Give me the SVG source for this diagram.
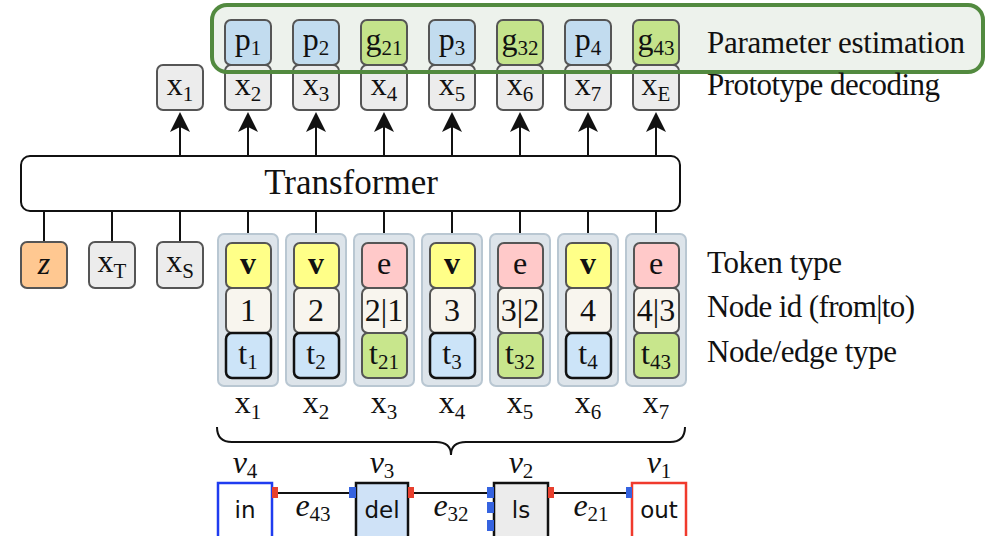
<svg xmlns="http://www.w3.org/2000/svg" width="986" height="536" viewBox="0 0 986 536">
<style>
.m{font-family:"Liberation Serif","DejaVu Serif",serif;fill:#111;}
.lbl{font-family:"Liberation Serif","DejaVu Serif",serif;fill:#111;font-size:31px;}
.sans{font-family:"DejaVu Sans","Liberation Sans",sans-serif;fill:#111;font-size:23px;text-anchor:middle;}
.tok{font-size:32px;text-anchor:middle;}
.sub{font-size:21px;}
.box{stroke:#555;stroke-width:2;}
.gray{fill:#ececec;}
.blue{fill:#c2dcef;}
.green{fill:#c4e38b;}
.tblue{fill:#cce4f8;stroke:#111;stroke-width:2.5;}
.tgreen{fill:#c8e68c;stroke:#555;stroke-width:2;}
.yel{fill:#ffff88;}
.pink{fill:#ffc9c9;}
.cream{fill:#f8f5ee;}
.col{fill:#dde4ea;stroke:#b9c7d2;stroke-width:2;}
.ln{stroke:#111;stroke-width:2;fill:none;}
.pr{fill:#e8402e;}
.pb{fill:#3563e0;}
.vb{font-weight:bold;stroke:#ffff88;stroke-width:0.6;paint-order:stroke;}
</style>
<defs>
<marker id="ah" markerUnits="userSpaceOnUse" viewBox="0 0 20 20" refX="12" refY="10" markerWidth="20" markerHeight="20" orient="auto">
<path d="M0,0 L20,10 L0,20 L5,10 Z" fill="#111"/>
</marker>
</defs>

<rect id="pe-bg" x="212" y="5" width="771" height="67" rx="15" fill="#edf2ec"/>

<g id="connectors">
<line class="ln" x1="180" y1="156" x2="180" y2="120" marker-end="url(#ah)"/>
<line class="ln" x1="248" y1="156" x2="248" y2="120" marker-end="url(#ah)"/>
<line class="ln" x1="316" y1="156" x2="316" y2="120" marker-end="url(#ah)"/>
<line class="ln" x1="384" y1="156" x2="384" y2="120" marker-end="url(#ah)"/>
<line class="ln" x1="452" y1="156" x2="452" y2="120" marker-end="url(#ah)"/>
<line class="ln" x1="520" y1="156" x2="520" y2="120" marker-end="url(#ah)"/>
<line class="ln" x1="588" y1="156" x2="588" y2="120" marker-end="url(#ah)"/>
<line class="ln" x1="656" y1="156" x2="656" y2="120" marker-end="url(#ah)"/>
<line class="ln" x1="44" y1="211" x2="44" y2="242"/>
<line class="ln" x1="112" y1="211" x2="112" y2="242"/>
<line class="ln" x1="180" y1="211" x2="180" y2="242"/>
<line class="ln" x1="248" y1="211" x2="248" y2="243"/>
<line class="ln" x1="316" y1="211" x2="316" y2="243"/>
<line class="ln" x1="384" y1="211" x2="384" y2="243"/>
<line class="ln" x1="452" y1="211" x2="452" y2="243"/>
<line class="ln" x1="520" y1="211" x2="520" y2="243"/>
<line class="ln" x1="588" y1="211" x2="588" y2="243"/>
<line class="ln" x1="656" y1="211" x2="656" y2="243"/>
<path class="ln" d="M217,427 Q217,442 232,442 L436,442 Q451,442 451,455 Q451,442 466,442 L670,442 Q685,442 685,427"/>
<line class="ln" x1="278" y1="493" x2="349" y2="493"/>
<line class="ln" x1="414" y1="493" x2="487" y2="493"/>
<line class="ln" x1="554" y1="493" x2="626" y2="493"/>
</g>

<g id="out-x1"><rect class="box gray" x="157" y="65" width="46" height="45" rx="6"/><text class="m tok" x="180" y="95">x<tspan class="sub" dy="6">1</tspan></text></g>
<g id="out-x2"><rect class="box gray" x="225" y="65" width="46" height="45" rx="6"/><text class="m tok" x="248" y="95">x<tspan class="sub" dy="6">2</tspan></text></g>
<g id="out-x3"><rect class="box gray" x="293" y="65" width="46" height="45" rx="6"/><text class="m tok" x="316" y="95">x<tspan class="sub" dy="6">3</tspan></text></g>
<g id="out-x4"><rect class="box gray" x="361" y="65" width="46" height="45" rx="6"/><text class="m tok" x="384" y="95">x<tspan class="sub" dy="6">4</tspan></text></g>
<g id="out-x5"><rect class="box gray" x="429" y="65" width="46" height="45" rx="6"/><text class="m tok" x="452" y="95">x<tspan class="sub" dy="6">5</tspan></text></g>
<g id="out-x6"><rect class="box gray" x="497" y="65" width="46" height="45" rx="6"/><text class="m tok" x="520" y="95">x<tspan class="sub" dy="6">6</tspan></text></g>
<g id="out-x7"><rect class="box gray" x="565" y="65" width="46" height="45" rx="6"/><text class="m tok" x="588" y="95">x<tspan class="sub" dy="6">7</tspan></text></g>
<g id="out-xE"><rect class="box gray" x="633" y="65" width="46" height="45" rx="6"/><text class="m tok" x="656" y="95">x<tspan class="sub" dy="6">E</tspan></text></g>

<g id="p1"><rect class="box blue" x="225" y="20" width="46" height="45" rx="6"/><text class="m tok" x="248" y="50">p<tspan class="sub" dy="5">1</tspan></text></g>
<g id="p2"><rect class="box blue" x="293" y="20" width="46" height="45" rx="6"/><text class="m tok" x="316" y="50">p<tspan class="sub" dy="5">2</tspan></text></g>
<g id="g21"><rect class="box green" x="361" y="20" width="46" height="45" rx="6"/><text class="m tok" x="384" y="50">g<tspan class="sub" dy="5">21</tspan></text></g>
<g id="p3"><rect class="box blue" x="429" y="20" width="46" height="45" rx="6"/><text class="m tok" x="452" y="50">p<tspan class="sub" dy="5">3</tspan></text></g>
<g id="g32"><rect class="box green" x="497" y="20" width="46" height="45" rx="6"/><text class="m tok" x="520" y="50">g<tspan class="sub" dy="5">32</tspan></text></g>
<g id="p4"><rect class="box blue" x="565" y="20" width="46" height="45" rx="6"/><text class="m tok" x="588" y="50">p<tspan class="sub" dy="5">4</tspan></text></g>
<g id="g43"><rect class="box green" x="633" y="20" width="46" height="45" rx="6"/><text class="m tok" x="656" y="50">g<tspan class="sub" dy="5">43</tspan></text></g>

<rect id="pe-frame" x="212" y="5" width="771" height="67" rx="15" fill="none" stroke="#528a3f" stroke-width="4"/>

<text class="lbl" x="707" y="53" textLength="258">Parameter estimation</text>
<text class="lbl" x="707" y="95" textLength="233">Prototype decoding</text>

<g id="transformer">
<rect x="21" y="156" width="659" height="55" rx="9" fill="#fff" stroke="#111" stroke-width="2"/>
<text class="m" x="351" y="194" font-size="35" text-anchor="middle">Transformer</text>
</g>

<g id="z"><rect class="box" fill="#ffc891" x="21" y="242" width="46" height="46" rx="6"/><text class="m tok" x="44" y="274" font-style="italic">z</text></g>
<g id="xT"><rect class="box gray" x="89" y="242" width="46" height="46" rx="6"/><text class="m tok" x="112" y="272">x<tspan class="sub" dy="6">T</tspan></text></g>
<g id="xS"><rect class="box gray" x="157" y="242" width="46" height="46" rx="6"/><text class="m tok" x="180" y="272">x<tspan class="sub" dy="6">S</tspan></text></g>

<g id="tok1">
<rect class="col" x="218" y="234" width="60" height="152" rx="6"/>
<rect class="box yel" x="226" y="243" width="45" height="45" rx="6"/><text class="m tok vb" x="248" y="274">v</text>
<rect class="box cream" x="226" y="288" width="45" height="45" rx="6"/><text class="m tok" x="248" y="321">1</text>
<rect class="tblue" x="226" y="333" width="45" height="45" rx="6"/><text class="m tok" x="248" y="364">t<tspan class="sub" dy="5">1</tspan></text>
<text class="m tok" x="248" y="413">x<tspan class="sub" dy="6">1</tspan></text>
</g>
<g id="tok2">
<rect class="col" x="286" y="234" width="60" height="152" rx="6"/>
<rect class="box yel" x="294" y="243" width="45" height="45" rx="6"/><text class="m tok vb" x="316" y="274">v</text>
<rect class="box cream" x="294" y="288" width="45" height="45" rx="6"/><text class="m tok" x="316" y="321">2</text>
<rect class="tblue" x="294" y="333" width="45" height="45" rx="6"/><text class="m tok" x="316" y="364">t<tspan class="sub" dy="5">2</tspan></text>
<text class="m tok" x="316" y="413">x<tspan class="sub" dy="6">2</tspan></text>
</g>
<g id="tok3">
<rect class="col" x="354" y="234" width="60" height="152" rx="6"/>
<rect class="box pink" x="362" y="243" width="45" height="45" rx="6"/><text class="m tok" x="384" y="274">e</text>
<rect class="box cream" x="362" y="288" width="45" height="45" rx="6"/><text class="m tok" x="384" y="321" font-size="28">2|1</text>
<rect class="tgreen" x="362" y="333" width="45" height="45" rx="6"/><text class="m tok" x="384" y="364">t<tspan class="sub" dy="5">21</tspan></text>
<text class="m tok" x="384" y="413">x<tspan class="sub" dy="6">3</tspan></text>
</g>
<g id="tok4">
<rect class="col" x="422" y="234" width="60" height="152" rx="6"/>
<rect class="box yel" x="430" y="243" width="45" height="45" rx="6"/><text class="m tok vb" x="452" y="274">v</text>
<rect class="box cream" x="430" y="288" width="45" height="45" rx="6"/><text class="m tok" x="452" y="321">3</text>
<rect class="tblue" x="430" y="333" width="45" height="45" rx="6"/><text class="m tok" x="452" y="364">t<tspan class="sub" dy="5">3</tspan></text>
<text class="m tok" x="452" y="413">x<tspan class="sub" dy="6">4</tspan></text>
</g>
<g id="tok5">
<rect class="col" x="490" y="234" width="60" height="152" rx="6"/>
<rect class="box pink" x="498" y="243" width="45" height="45" rx="6"/><text class="m tok" x="520" y="274">e</text>
<rect class="box cream" x="498" y="288" width="45" height="45" rx="6"/><text class="m tok" x="520" y="321" font-size="28">3|2</text>
<rect class="tgreen" x="498" y="333" width="45" height="45" rx="6"/><text class="m tok" x="520" y="364">t<tspan class="sub" dy="5">32</tspan></text>
<text class="m tok" x="520" y="413">x<tspan class="sub" dy="6">5</tspan></text>
</g>
<g id="tok6">
<rect class="col" x="558" y="234" width="60" height="152" rx="6"/>
<rect class="box yel" x="566" y="243" width="45" height="45" rx="6"/><text class="m tok vb" x="588" y="274">v</text>
<rect class="box cream" x="566" y="288" width="45" height="45" rx="6"/><text class="m tok" x="588" y="321">4</text>
<rect class="tblue" x="566" y="333" width="45" height="45" rx="6"/><text class="m tok" x="588" y="364">t<tspan class="sub" dy="5">4</tspan></text>
<text class="m tok" x="588" y="413">x<tspan class="sub" dy="6">6</tspan></text>
</g>
<g id="tok7">
<rect class="col" x="626" y="234" width="60" height="152" rx="6"/>
<rect class="box pink" x="634" y="243" width="45" height="45" rx="6"/><text class="m tok" x="656" y="274">e</text>
<rect class="box cream" x="634" y="288" width="45" height="45" rx="6"/><text class="m tok" x="656" y="321" font-size="28">4|3</text>
<rect class="tgreen" x="634" y="333" width="45" height="45" rx="6"/><text class="m tok" x="656" y="364">t<tspan class="sub" dy="5">43</tspan></text>
<text class="m tok" x="656" y="413">x<tspan class="sub" dy="6">7</tspan></text>
</g>

<text class="lbl" x="707" y="273" textLength="135">Token type</text>
<text class="lbl" x="707" y="317" textLength="208">Node id (from|to)</text>
<text class="lbl" x="707" y="362" textLength="190">Node/edge type</text>

<g id="v4">
<text class="m tok" x="245" y="473" font-style="italic">v<tspan class="sub" dy="5" font-style="normal">4</tspan></text>
<rect x="218" y="483" width="54" height="62" fill="#fff" stroke="#1f3cf0" stroke-width="2.5"/>
<text class="sans" x="245" y="518">in</text>
<rect class="pr" x="272" y="487" width="6" height="11"/>
</g>
<g id="v3">
<text class="m tok" x="382" y="473" font-style="italic">v<tspan class="sub" dy="5" font-style="normal">3</tspan></text>
<rect x="356" y="483" width="52" height="62" fill="#cfe2f7" stroke="#111" stroke-width="2.5"/>
<text class="sans" x="382" y="518">del</text>
<rect class="pb" x="349" y="487" width="7" height="11"/>
<rect class="pr" x="408" y="487" width="6" height="11"/>
</g>
<g id="v2">
<text class="m tok" x="521" y="473" font-style="italic">v<tspan class="sub" dy="5" font-style="normal">2</tspan></text>
<rect x="494" y="483" width="54" height="62" fill="#ececec" stroke="#111" stroke-width="2.5"/>
<text class="sans" x="521" y="518">ls</text>
<rect class="pb" x="487" y="487" width="7" height="11"/>
<rect class="pb" x="487" y="502" width="7" height="11"/>
<rect class="pb" x="487" y="520" width="7" height="11"/>
<rect class="pr" x="548" y="487" width="6" height="11"/>
</g>
<g id="v1">
<text class="m tok" x="659" y="473" font-style="italic">v<tspan class="sub" dy="5" font-style="normal">1</tspan></text>
<rect x="632" y="483" width="54" height="62" fill="#fff" stroke="#f03a2c" stroke-width="2.5"/>
<text class="sans" x="659" y="518">out</text>
<rect class="pb" x="626" y="487" width="6" height="11"/>
</g>
<g id="edge-labels">
<text class="m tok" x="313" y="516" font-style="italic">e<tspan class="sub" dy="5" font-style="normal">43</tspan></text>
<text class="m tok" x="451" y="516" font-style="italic">e<tspan class="sub" dy="5" font-style="normal">32</tspan></text>
<text class="m tok" x="591" y="516" font-style="italic">e<tspan class="sub" dy="5" font-style="normal">21</tspan></text>
</g>
</svg>
